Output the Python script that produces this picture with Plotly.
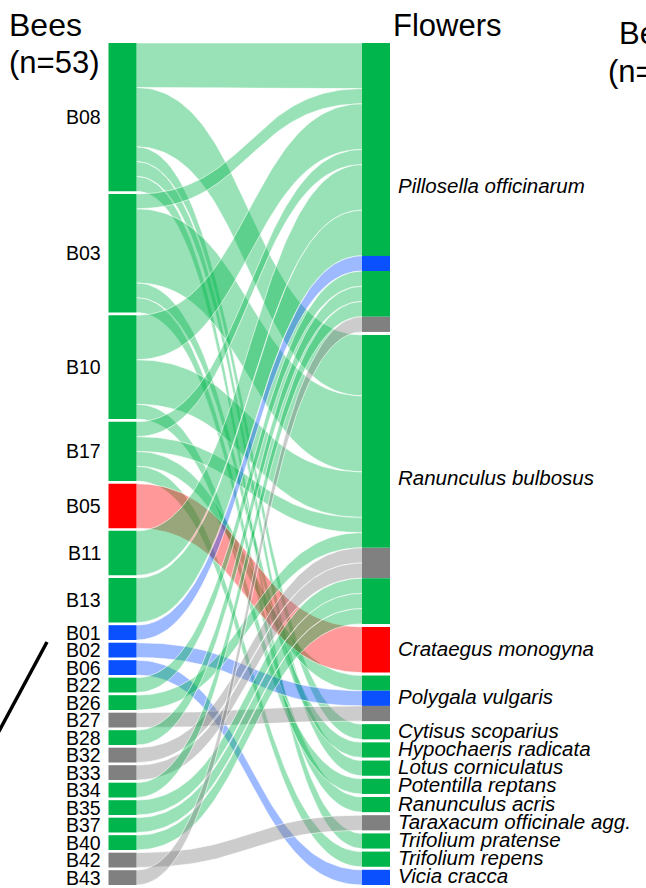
import numpy as np
import plotly.graph_objects as go

# ---------------- data ----------------
bees = ["B08", "B03", "B10", "B17", "B05", "B11", "B13", "B01", "B02", "B06",
        "B22", "B26", "B27", "B28", "B32", "B33", "B34", "B35", "B37", "B40",
        "B42", "B43"]
bee_groups = ["green", "green", "green", "green", "red", "green", "green",
              "blue", "blue", "blue",
              "green", "green", "gray", "green", "gray", "gray", "green",
              "green", "green", "green", "gray", "gray"]

flowers = ["Pillosella officinarum", "Ranunculus bulbosus", "Crataegus monogyna",
           "Polygala vulgaris", "Cytisus scoparius", "Hypochaeris radicata",
           "Lotus corniculatus", "Potentilla reptans", "Ranunculus acris",
           "Taraxacum officinale agg.", "Trifolium pratense", "Trifolium repens",
           "Vicia cracca"]

link_bee = ["B08", "B08", "B08", "B08", "B08",
            "B03", "B03", "B03", "B03",
            "B10", "B10", "B10",
            "B17", "B17", "B17", "B17",
            "B05", "B11", "B13", "B01", "B02", "B06",
            "B22", "B26", "B27", "B28", "B32", "B33", "B34", "B35", "B37",
            "B40", "B42", "B43"]
link_flower = ["Pillosella officinarum", "Ranunculus bulbosus", "Cytisus scoparius",
               "Lotus corniculatus", "Trifolium pratense",
               "Pillosella officinarum", "Ranunculus bulbosus", "Hypochaeris radicata",
               "Ranunculus acris",
               "Pillosella officinarum", "Ranunculus bulbosus", "Potentilla reptans",
               "Pillosella officinarum", "Ranunculus bulbosus", "Polygala vulgaris",
               "Trifolium repens",
               "Crataegus monogyna", "Pillosella officinarum", "Pillosella officinarum",
               "Pillosella officinarum", "Polygala vulgaris", "Vicia cracca",
               "Pillosella officinarum", "Ranunculus bulbosus", "Polygala vulgaris",
               "Pillosella officinarum", "Ranunculus bulbosus", "Ranunculus bulbosus",
               "Pillosella officinarum", "Ranunculus bulbosus", "Ranunculus bulbosus",
               "Ranunculus bulbosus", "Taraxacum officinale agg.", "Pillosella officinarum"]
link_count = [3, 4, 1, 1, 1,
              1, 5, 1, 1,
              3, 3, 1,
              1, 1, 1, 1,
              3, 3, 3, 1, 1, 1,
              1, 1, 1, 1, 1, 1, 1, 1, 1,
              1, 1, 1]

title_left = ["Bees", "(n=53)"]
title_right = "Flowers"
title_next = ["Be", "(n="]

# ---------------- style / geometry ----------------
SOLID = {"green": "#00b64c", "red": "#ff0000", "blue": "#0a50ff", "gray": "#808080"}
FLOW = {"green": "rgba(0,182,76,0.40)", "red": "rgba(255,0,0,0.40)",
        "blue": "rgba(10,80,255,0.40)", "gray": "rgba(128,128,128,0.40)"}

W, H = 646, 888
TOP, BOT = 43, 885
XL0, XL1, XR0, XR1 = 108.5, 136.5, 362.0, 390.0
GAP_L, GAP_R = 2.67, 3.0
FONT = "Liberation Sans, Arial, sans-serif"

bee_idx = {b: i for i, b in enumerate(bees)}
fl_idx = {f: i for i, f in enumerate(flowers)}
n_links = len(link_count)

bee_tot = np.zeros(len(bees))
fl_tot = np.zeros(len(flowers))
for b, f, c in zip(link_bee, link_flower, link_count):
    bee_tot[bee_idx[b]] += c
    fl_tot[fl_idx[f]] += c
total = bee_tot.sum()
uL = (BOT - TOP - GAP_L * (len(bees) - 1)) / total
uR = (BOT - TOP - GAP_R * (len(flowers) - 1)) / total

bee_top = TOP + np.concatenate([[0], np.cumsum(bee_tot)[:-1]]) * uL + np.arange(len(bees)) * GAP_L
fl_top = TOP + np.concatenate([[0], np.cumsum(fl_tot)[:-1]]) * uR + np.arange(len(flowers)) * GAP_R

yL0 = np.zeros(n_links); yL1 = np.zeros(n_links)
yR0 = np.zeros(n_links); yR1 = np.zeros(n_links)
cur = bee_top.copy()
for k in sorted(range(n_links), key=lambda k: (bee_idx[link_bee[k]], fl_idx[link_flower[k]])):
    b = bee_idx[link_bee[k]]
    yL0[k] = cur[b]; cur[b] += link_count[k] * uL; yL1[k] = cur[b]
cur = fl_top.copy()
order_R = sorted(range(n_links), key=lambda k: (fl_idx[link_flower[k]], bee_idx[link_bee[k]]))
for k in order_R:
    f = fl_idx[link_flower[k]]
    yR0[k] = cur[f]; cur[f] += link_count[k] * uR; yR1[k] = cur[f]


def edge(ya, yb, n=80):
    t = np.linspace(0, 1, n)
    xm = (XL1 + XR0) / 2
    x = (1 - t) ** 3 * XL1 + 3 * (1 - t) ** 2 * t * xm + 3 * (1 - t) * t ** 2 * xm + t ** 3 * XR0
    y = (1 - t) ** 3 * ya + 3 * (1 - t) ** 2 * t * ya + 3 * (1 - t) * t ** 2 * yb + t ** 3 * yb
    return x, y


fig = go.Figure()
for k in range(n_links):
    grp = bee_groups[bee_idx[link_bee[k]]]
    xt, yt = edge(yL0[k], yR0[k])
    xb, yb = edge(yL1[k], yR1[k])
    fig.add_trace(go.Scatter(
        x=np.concatenate([xt, xb[::-1]]), y=np.concatenate([yt, yb[::-1]]),
        fill="toself", fillcolor=FLOW[grp], mode="lines", line=dict(width=0),
        hoverinfo="text", text=f"{link_bee[k]} → {link_flower[k]}: {link_count[k]}"))
    fig.add_trace(go.Scatter(
        x=np.concatenate([xt, [None], xb]), y=np.concatenate([yt, [None], yb]),
        mode="lines", line=dict(color="rgba(255,255,255,0.85)", width=0.7),
        hoverinfo="skip"))

shapes = []
for i, b in enumerate(bees):
    shapes.append(dict(type="rect", xref="x", yref="y", x0=XL0, x1=XL1,
                       y0=bee_top[i], y1=bee_top[i] + bee_tot[i] * uL,
                       fillcolor=SOLID[bee_groups[i]], line=dict(width=0), layer="above"))
# right strata coloured by incoming bee group (merged runs)
runs = []
for k in order_R:
    f = fl_idx[link_flower[k]]
    grp = bee_groups[bee_idx[link_bee[k]]]
    if runs and runs[-1][0] == f and runs[-1][1] == grp:
        runs[-1][3] = yR1[k]
    else:
        runs.append([f, grp, yR0[k], yR1[k]])
for f, grp, y0, y1 in runs:
    shapes.append(dict(type="rect", xref="x", yref="y", x0=XR0, x1=XR1, y0=y0, y1=y1,
                       fillcolor=SOLID[grp], line=dict(width=0), layer="above"))
# stray divider line from neighbouring panel
shapes.append(dict(type="line", xref="x", yref="y", x0=47, y0=642, x1=-3, y1=735,
                   line=dict(color="black", width=3.5), layer="above"))

ann = []
for i, b in enumerate(bees):
    ann.append(dict(x=103, y=bee_top[i] + bee_tot[i] * uL / 2, text=b, showarrow=False,
                    xanchor="right", yanchor="middle", font=dict(size=19.5, color="black", family=FONT)))
for j, f in enumerate(flowers):
    ann.append(dict(x=396, y=fl_top[j] + fl_tot[j] * uR / 2 - 1.5, text=f"<i>{f}</i>", showarrow=False,
                    xanchor="left", yanchor="middle", font=dict(size=20.5, color="black", family=FONT)))
ann.append(dict(x=45, y=25, text=title_left[0], showarrow=False, xanchor="center", yanchor="middle",
                font=dict(size=32, color="black", family=FONT)))
ann.append(dict(x=54, y=62, text=title_left[1], showarrow=False, xanchor="center", yanchor="middle",
                font=dict(size=31, color="black", family=FONT)))
ann.append(dict(x=391, y=25, text=title_right, showarrow=False, xanchor="left", yanchor="middle",
                font=dict(size=31, color="black", family=FONT)))
ann.append(dict(x=617, y=33, text=title_next[0], showarrow=False, xanchor="left", yanchor="middle",
                font=dict(size=31, color="black", family=FONT)))
ann.append(dict(x=606, y=71, text=title_next[1], showarrow=False, xanchor="left", yanchor="middle",
                font=dict(size=31, color="black", family=FONT)))

fig.update_layout(
    width=W, height=H, margin=dict(l=0, r=0, t=0, b=0),
    paper_bgcolor="white", plot_bgcolor="white", showlegend=False,
    xaxis=dict(range=[0, W], visible=False, fixedrange=True),
    yaxis=dict(range=[H, 0], visible=False, fixedrange=True),
    shapes=shapes, annotations=ann,
)
fig.write_html("out.html", config={"displayModeBar": False},
               post_script="document.body.style.margin='0';")
